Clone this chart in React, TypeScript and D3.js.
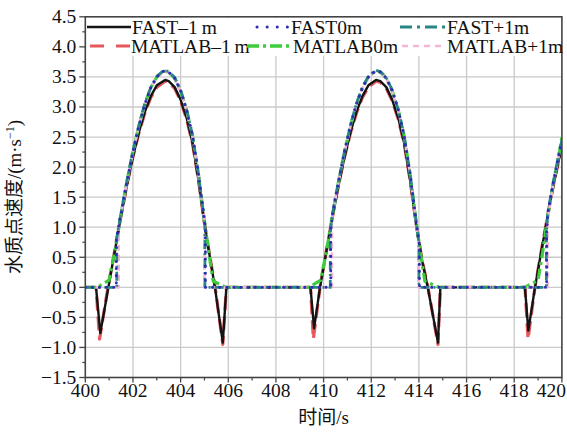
import React from "react";
import * as d3 from "d3";

type P = [number, number];

const xTicks = [400, 402, 404, 406, 408, 410, 412, 414, 416, 418, 420];
const yTicks = [-1.5, -1.0, -0.5, 0.0, 0.5, 1.0, 1.5, 2.0, 2.5, 3.0, 3.5, 4.0, 4.5];

const fastM1: P[] = [
  [400, 0], [400.45, 0], [400.63, -0.76], [400.97, 0], [401.25, 0.63], [401.5, 1.18], [401.75, 1.7], [402, 2.17],
  [402.25, 2.58], [402.5, 2.92], [402.75, 3.18], [403, 3.36], [403.35, 3.45], [403.5, 3.43], [403.75, 3.33],
  [404, 3.12], [404.25, 2.82], [404.5, 2.4], [404.75, 1.78], [405, 1.05], [405.25, 0.45], [405.44, 0],
  [405.77, -0.92], [405.92, 0], [409.45, 0], [409.6, -0.68], [409.85, 0], [410.13, 0.63], [410.38, 1.18],
  [410.63, 1.7], [410.88, 2.17], [411.13, 2.58], [411.38, 2.92], [411.63, 3.18], [411.88, 3.36], [412.2, 3.45],
  [412.38, 3.43], [412.63, 3.33], [412.88, 3.12], [413.13, 2.82], [413.38, 2.4], [413.63, 1.78], [413.88, 1.05],
  [414.13, 0.45], [414.37, 0], [414.8, -0.92], [414.9, 0], [418.45, 0], [418.59, -0.72], [418.87, 0],
  [419.15, 0.63], [419.4, 1.18], [419.65, 1.7], [419.9, 2.17], [420, 2.34],
];

const matlabM1: P[] = [
  [400, 0], [400.45, 0], [400.6, -0.86], [400.95, 0], [401.25, 0.64], [401.5, 1.19], [401.75, 1.71], [402, 2.17],
  [402.25, 2.57], [402.5, 2.9], [402.75, 3.16], [403, 3.33], [403.35, 3.43], [403.5, 3.41], [403.75, 3.31],
  [404, 3.1], [404.25, 2.8], [404.5, 2.39], [404.75, 1.78], [405, 1.06], [405.25, 0.46], [405.45, 0],
  [405.77, -0.95], [405.92, 0], [409.45, 0], [409.57, -0.86], [409.85, 0], [410.13, 0.64], [410.38, 1.19],
  [410.63, 1.71], [410.88, 2.17], [411.13, 2.57], [411.38, 2.9], [411.63, 3.16], [411.88, 3.33], [412.2, 3.43],
  [412.38, 3.41], [412.63, 3.31], [412.88, 3.1], [413.13, 2.8], [413.38, 2.39], [413.63, 1.78], [413.88, 1.06],
  [414.13, 0.46], [414.38, 0], [414.8, -0.95], [414.9, 0], [418.45, 0], [418.58, -0.86], [418.87, 0],
  [419.15, 0.64], [419.4, 1.19], [419.65, 1.71], [419.9, 2.17], [420, 2.33],
];

const fast0: P[] = [
  [400, 0], [401.3, 0], [401.3, 0.8], [401.5, 1.23], [401.75, 1.77], [402, 2.26], [402.25, 2.69], [402.5, 3.05],
  [402.75, 3.32], [403, 3.5], [403.3, 3.6], [403.5, 3.58], [403.75, 3.48], [404, 3.27], [404.25, 2.95],
  [404.5, 2.52], [404.75, 1.88], [405, 1.1], [405.04, 0.98], [405.04, 0], [410.3, 0], [410.3, 0.95],
  [410.38, 1.23], [410.63, 1.77], [410.88, 2.26], [411.13, 2.69], [411.38, 3.05], [411.63, 3.32], [411.88, 3.5],
  [412.18, 3.6], [412.38, 3.58], [412.63, 3.48], [412.88, 3.27], [413.13, 2.95], [413.38, 2.52], [413.63, 1.88],
  [413.88, 1.1], [414.02, 0.7], [414.02, 0], [419.36, 0], [419.36, 0.9], [419.4, 1.22], [419.65, 1.77],
  [419.9, 2.26], [420, 2.43],
];

const fastP1: P[] = [
  [400, 0], [401.32, 0], [401.32, 0.82], [401.5, 1.24], [401.75, 1.78], [402, 2.27], [402.25, 2.7], [402.5, 3.06],
  [402.75, 3.33], [403, 3.51], [403.3, 3.61], [403.5, 3.59], [403.75, 3.49], [404, 3.28], [404.25, 2.96],
  [404.5, 2.53], [404.75, 1.89], [405, 1.1], [405.02, 1.02], [405.02, 0], [410.28, 0], [410.28, 0.93],
  [410.38, 1.24], [410.63, 1.78], [410.88, 2.27], [411.13, 2.7], [411.38, 3.06], [411.63, 3.33], [411.88, 3.51],
  [412.18, 3.61], [412.38, 3.59], [412.63, 3.49], [412.88, 3.28], [413.13, 2.96], [413.38, 2.53], [413.63, 1.89],
  [413.88, 1.1], [414.0, 0.75], [414.0, 0], [419.35, 0], [419.35, 0.88], [419.4, 1.23], [419.65, 1.78],
  [419.9, 2.27], [420, 2.45],
];

const matlab0: P[] = [
  [400, 0], [400.5, 0], [401.0, 0.12], [401.25, 0.62], [401.5, 1.22], [401.75, 1.77], [402, 2.26], [402.25, 2.69],
  [402.5, 3.05], [402.75, 3.32], [403, 3.5], [403.3, 3.6], [403.5, 3.58], [403.75, 3.48], [404, 3.27],
  [404.25, 2.95], [404.5, 2.52], [404.75, 1.88], [405, 1.1], [405.25, 0.4], [405.37, 0.1], [405.9, 0],
  [409.4, 0], [409.88, 0.12], [410.13, 0.62], [410.38, 1.22], [410.63, 1.77], [410.88, 2.26], [411.13, 2.69],
  [411.38, 3.05], [411.63, 3.32], [411.88, 3.5], [412.18, 3.6], [412.38, 3.58], [412.63, 3.48], [412.88, 3.27],
  [413.13, 2.95], [413.38, 2.52], [413.63, 1.88], [413.88, 1.1], [414.13, 0.4], [414.25, 0.1], [414.85, 0],
  [418.45, 0], [419.0, 0.12], [419.2, 0.6], [419.4, 1.18], [419.65, 1.74], [419.9, 2.26], [420, 2.5],
];

const matlabP1: P[] = [
  [400, 0], [401.4, 0], [401.4, 1.0], [401.5, 1.22], [401.75, 1.76], [402, 2.25], [402.25, 2.68], [402.5, 3.04],
  [402.75, 3.31], [403, 3.49], [403.3, 3.59], [403.5, 3.57], [403.75, 3.47], [404, 3.26], [404.25, 2.94],
  [404.5, 2.51], [404.75, 1.87], [405, 1.08], [405.0, 0], [410.35, 0], [410.35, 1.05], [410.38, 1.22],
  [410.63, 1.76], [410.88, 2.25], [411.13, 2.68], [411.38, 3.04], [411.63, 3.31], [411.88, 3.49], [412.18, 3.59],
  [412.38, 3.57], [412.63, 3.47], [412.88, 3.26], [413.13, 2.94], [413.38, 2.51], [413.63, 1.87], [413.88, 1.08],
  [413.98, 0.8], [413.98, 0], [419.4, 0], [419.4, 1.1], [419.65, 1.76], [419.9, 2.25], [420, 2.44],
];

const seriesNames = ["FAST\u20131\u2009m", "FAST0m", "FAST+1m", "MATLAB\u20131\u2009m", "MATLAB0m", "MATLAB+1m"];

const L = 85.3, R = 561.9, T = 16.8, B = 377.5;
const FONT = "Liberation Serif, Times New Roman, Times, serif";
const CJK = "Liberation Serif, Noto Sans CJK SC, serif";

export default function App() {
  const x = d3.scaleLinear().domain([400, 420]).range([L, R]);
  const y = d3.scaleLinear().domain([-1.5, 4.5]).range([B, T]);
  const line = d3.line<P>().x((d) => x(d[0])).y((d) => y(d[1]));

  const styles = [
    { data: matlabM1, stroke: "#e6585c", w: 3.2, dash: "14,6", cap: "butt" },
    { data: fastM1, stroke: "#141414", w: 2.4, dash: "none", cap: "butt" },
    { data: matlab0, stroke: "#3ccc3c", w: 3.2, dash: "10,4,3,4", cap: "butt" },
    { data: matlabP1, stroke: "#f4b6d6", w: 2.6, dash: "6,4", cap: "butt" },
    { data: fastP1, stroke: "#2a8686", w: 2.8, dash: "9,4,2,4", cap: "butt" },
    { data: fast0, stroke: "#2d2db4", w: 3, dash: "0.1,7", cap: "round" },
  ];

  const xMinor = d3.range(401, 420, 2);
  const yMinor = d3.range(-1.25, 4.5, 0.5);

  const legend = [
    { name: seriesNames[0], stroke: "#141414", w: 2.6, dash: "none", cap: "butt", x1: 87, x2: 131, tx: 132, ty: 27 },
    { name: seriesNames[1], stroke: "#2d2db4", w: 3, dash: "0.1,10", cap: "round", x1: 257, x2: 290, tx: 291, ty: 27 },
    { name: seriesNames[2], stroke: "#2a8686", w: 2.8, dash: "12,5,3,5", cap: "butt", x1: 400, x2: 445, tx: 447, ty: 27 },
    { name: seriesNames[3], stroke: "#e6585c", w: 3, dash: "14,12", cap: "butt", x1: 90, x2: 130, tx: 131, ty: 46 },
    { name: seriesNames[4], stroke: "#3ccc3c", w: 3.4, dash: "12,4,3,4", cap: "butt", x1: 247, x2: 292, tx: 293, ty: 46 },
    { name: seriesNames[5], stroke: "#f4b6d6", w: 2.6, dash: "6,5", cap: "butt", x1: 402, x2: 446, tx: 447, ty: 46 },
  ];

  return (
    <svg width={567} height={432} style={{ position: "absolute", left: 0, top: 0, background: "#fff" }}>
      <defs>
        <clipPath id="plot">
          <rect x={L} y={T} width={R - L} height={B - T} />
        </clipPath>
      </defs>
      <rect x={0} y={0} width={567} height={432} fill="#fff" />
      {xTicks.slice(1, -1).map((t) => (
        <line key={"gx" + t} x1={x(t)} x2={x(t)} y1={T} y2={B} stroke="#cacaca" strokeWidth={1.3} />
      ))}
      {yTicks.slice(1, -1).map((t) => (
        <line key={"gy" + t} x1={L} x2={R} y1={y(t)} y2={y(t)} stroke="#cacaca" strokeWidth={1.3} />
      ))}
      <rect x={L + 1} y={T + 1} width={R - L - 2} height={38} fill="#fff" />
      <g clipPath="url(#plot)">
        {styles.map((s, i) => (
          <path key={i} d={line(s.data) || ""} fill="none" stroke={s.stroke} strokeWidth={s.w}
            strokeDasharray={s.dash} strokeLinecap={s.cap as any} strokeLinejoin="round" />
        ))}
      </g>
      <rect x={L} y={T} width={R - L} height={B - T} fill="none" stroke="#444" strokeWidth={1.6} />
      {xTicks.map((t, i) => (
        <g key={"xt" + t}>
          <line x1={x(t)} x2={x(t)} y1={B} y2={B + 5} stroke="#444" strokeWidth={1.3} />
          <text x={i === xTicks.length - 1 ? 566 : x(t)} y={B + 19}
            textAnchor={i === xTicks.length - 1 ? "end" : "middle"}
            style={{ fontFamily: FONT }} fontSize={19.5} fill="#111">{t}</text>
        </g>
      ))}
      {xMinor.map((t) => (
        <line key={"xm" + t} x1={x(t)} x2={x(t)} y1={B} y2={B + 3} stroke="#444" strokeWidth={1.2} />
      ))}
      {yTicks.map((t) => (
        <g key={"yt" + t}>
          <line x1={L - 6} x2={L} y1={y(t)} y2={y(t)} stroke="#444" strokeWidth={1.3} />
          <text x={L - 9} y={y(t) + 6.5} textAnchor="end" style={{ fontFamily: FONT }} fontSize={19.5} fill="#111">
            {t < 0 ? "\u2212" + Math.abs(t).toFixed(1) : t.toFixed(1)}
          </text>
        </g>
      ))}
      {yMinor.map((t) => (
        <line key={"ym" + t} x1={L - 3} x2={L} y1={y(t)} y2={y(t)} stroke="#444" strokeWidth={1.2} />
      ))}
      {legend.map((l, i) => (
        <g key={"lg" + i}>
          <line x1={l.x1} x2={l.x2} y1={l.ty} y2={l.ty} stroke={l.stroke} strokeWidth={l.w}
            strokeDasharray={l.dash} strokeLinecap={l.cap as any} />
          <text x={l.tx} y={l.ty + 6.5} style={{ fontFamily: FONT }} fontSize={19.5} fill="#111">{l.name}</text>
        </g>
      ))}
      <text x={(L + R) / 2} y={424} textAnchor="middle" style={{ fontFamily: CJK }} fontSize={19} fill="#111">时间/s</text>
      <text transform="translate(21,197) rotate(-90)" textAnchor="middle" style={{ fontFamily: CJK }} fontSize={19} fill="#111">
        水质点速度/(m·s<tspan dy={-7} fontSize={12}>−1</tspan><tspan dy={7}>)</tspan>
      </text>
    </svg>
  );
}
